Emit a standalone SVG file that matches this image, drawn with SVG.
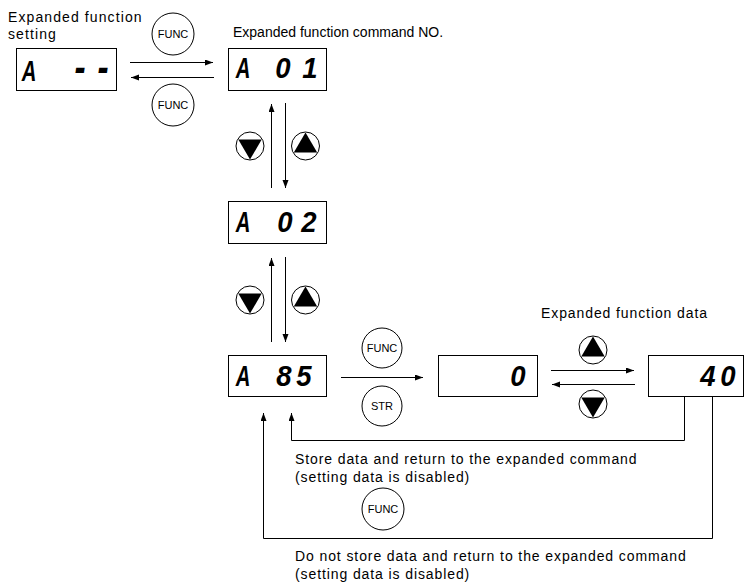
<svg xmlns="http://www.w3.org/2000/svg" width="745" height="582" viewBox="0 0 745 582">
<style>
.lbl{font-family:"Liberation Sans",Arial,sans-serif;font-size:14px;fill:#000}
.btn{font-family:"Liberation Sans",Arial,sans-serif;font-size:11px;fill:#000;text-anchor:middle}
.seg{font-family:"Liberation Sans",Arial,sans-serif;font-size:29px;font-weight:bold;font-style:italic;fill:#000;text-anchor:middle}
.box{fill:#fff;stroke:#000;stroke-width:1}
.cir{fill:#fff;stroke:#000;stroke-width:1}
.ln{fill:none;stroke:#000;stroke-width:1}
</style>
<defs>
<marker id="ah" markerUnits="userSpaceOnUse" markerWidth="9" markerHeight="7" refX="8" refY="3" orient="auto">
<path d="M0,0 L8,3 L0,6 z" fill="#000"/>
</marker>
</defs>
<rect width="745" height="582" fill="#fff"/>

<g id="labels">
<text class="lbl" x="8" y="22" letter-spacing="1.1">Expanded function</text>
<text class="lbl" x="8" y="39" letter-spacing="1.1">setting</text>
<text class="lbl" x="233" y="37" font-size="13.5">Expanded function command NO.</text>
<text class="lbl" x="541" y="318" letter-spacing="0.9">Expanded function data</text>
<text class="lbl" x="295" y="464" letter-spacing="0.9">Store data and return to the expanded command</text>
<text class="lbl" x="295" y="482" letter-spacing="0.9">(setting data is disabled)</text>
<text class="lbl" x="295" y="561" letter-spacing="0.9">Do not store data and return to the expanded command</text>
<text class="lbl" x="295" y="579" letter-spacing="0.9">(setting data is disabled)</text>
</g>

<g id="connectors">
<line class="ln" x1="130" y1="62.5" x2="213" y2="62.5" marker-end="url(#ah)"/>
<line class="ln" x1="214" y1="77.5" x2="131" y2="77.5" marker-end="url(#ah)"/>
<line class="ln" x1="271.5" y1="188" x2="271.5" y2="104" marker-end="url(#ah)"/>
<line class="ln" x1="285.5" y1="103" x2="285.5" y2="188" marker-end="url(#ah)"/>
<line class="ln" x1="271.5" y1="342" x2="271.5" y2="258" marker-end="url(#ah)"/>
<line class="ln" x1="285.5" y1="257" x2="285.5" y2="342" marker-end="url(#ah)"/>
<line class="ln" x1="341" y1="377.5" x2="423" y2="377.5" marker-end="url(#ah)"/>
<line class="ln" x1="551" y1="370.5" x2="634" y2="370.5" marker-end="url(#ah)"/>
<line class="ln" x1="635" y1="384.5" x2="552" y2="384.5" marker-end="url(#ah)"/>
<polyline class="ln" points="684.5,396 684.5,440.5 291.5,440.5 291.5,413" marker-end="url(#ah)"/>
<polyline class="ln" points="712.5,396 712.5,538.5 263.5,538.5 263.5,413" marker-end="url(#ah)"/>
</g>

<g id="btn-func-1"><circle class="cir" cx="173" cy="34" r="21"/><text class="btn" x="173" y="38">FUNC</text></g>
<g id="btn-func-2"><circle class="cir" cx="173" cy="105" r="21"/><text class="btn" x="173" y="109">FUNC</text></g>
<g id="btn-down-1"><circle class="cir" cx="250" cy="146" r="14"/><path d="M238.3,139.5 L261.7,139.5 L250,159.5 z" fill="#000"/></g>
<g id="btn-up-1"><circle class="cir" cx="305.5" cy="146" r="14"/><path d="M305.5,132.5 L317.2,152.5 L293.8,152.5 z" fill="#000"/></g>
<g id="btn-down-2"><circle class="cir" cx="250" cy="300" r="14"/><path d="M238.3,293.5 L261.7,293.5 L250,313.5 z" fill="#000"/></g>
<g id="btn-up-2"><circle class="cir" cx="305.5" cy="300" r="14"/><path d="M305.5,286.5 L317.2,306.5 L293.8,306.5 z" fill="#000"/></g>
<g id="btn-func-3"><circle class="cir" cx="382" cy="348" r="20"/><text class="btn" x="382" y="352">FUNC</text></g>
<g id="btn-str"><circle class="cir" cx="382" cy="406" r="20"/><text class="btn" x="382" y="410" font-size="12">STR</text></g>
<g id="btn-up-3"><circle class="cir" cx="593" cy="350" r="14"/><path d="M593,336.5 L604.7,356.5 L581.3,356.5 z" fill="#000"/></g>
<g id="btn-down-3"><circle class="cir" cx="593" cy="404" r="14"/><path d="M581.3,397.5 L604.7,397.5 L593,417.5 z" fill="#000"/></g>
<g id="btn-func-4"><circle class="cir" cx="383" cy="509" r="21"/><text class="btn" x="383" y="513">FUNC</text></g>

<g id="disp-a-dash">
<rect class="box" x="16.5" y="48.5" width="100" height="42"/>
<text class="seg" transform="translate(29,81) scale(0.7,1)">A</text>
<text class="seg" transform="translate(80,82) scale(1.15,1.5)">-</text>
<text class="seg" transform="translate(103,82) scale(1.15,1.5)">-</text>
</g>
<g id="disp-a01">
<rect class="box" x="228.5" y="48.5" width="98" height="42"/>
<text class="seg" transform="translate(243,78) scale(0.7,1)">A</text>
<text class="seg" transform="translate(283,78) scale(0.95,1)">0</text>
<text class="seg" transform="translate(310,78) scale(0.95,1)">1</text>
</g>
<g id="disp-a02">
<rect class="box" x="228.5" y="201.5" width="98" height="42"/>
<text class="seg" transform="translate(243,232) scale(0.7,1)">A</text>
<text class="seg" transform="translate(285,232) scale(0.95,1)">0</text>
<text class="seg" transform="translate(309,232) scale(0.95,1)">2</text>
</g>
<g id="disp-a85">
<rect class="box" x="228.5" y="355.5" width="98" height="41"/>
<text class="seg" transform="translate(243,386) scale(0.7,1)">A</text>
<text class="seg" transform="translate(284,386) scale(0.95,1)">8</text>
<text class="seg" transform="translate(304,386) scale(0.95,1)">5</text>
</g>
<g id="disp-0">
<rect class="box" x="438.5" y="355.5" width="99" height="41"/>
<text class="seg" transform="translate(518,386) scale(0.95,1)">0</text>
</g>
<g id="disp-40">
<rect class="box" x="648.5" y="355.5" width="95" height="41"/>
<text class="seg" transform="translate(708,386) scale(0.95,1)">4</text>
<text class="seg" transform="translate(728,386) scale(0.95,1)">0</text>
</g>
</svg>
